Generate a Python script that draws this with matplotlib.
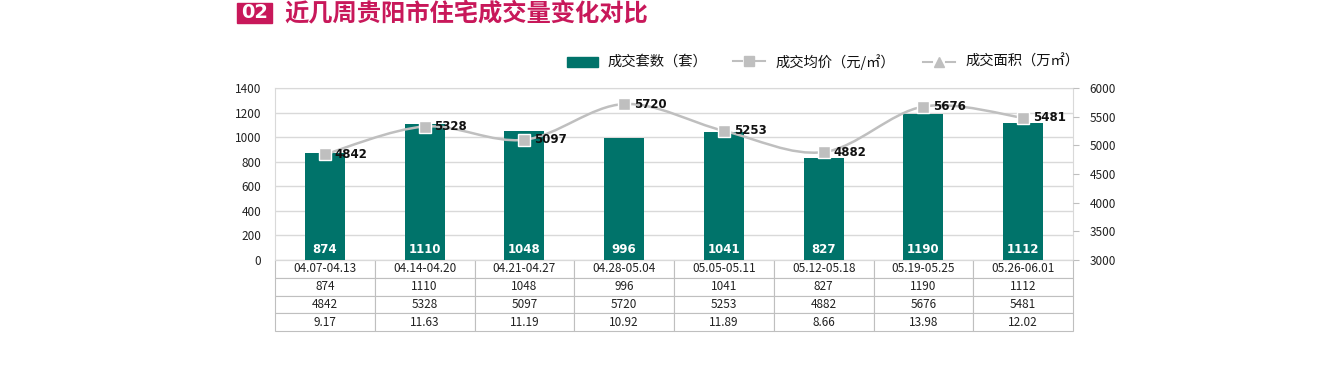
import matplotlib
matplotlib.use("Agg")
import matplotlib.pyplot as plt
from matplotlib.path import Path
from matplotlib.patches import PathPatch, Rectangle
from matplotlib.lines import Line2D
import numpy as np

plt.rcParams['font.family'] = ['Noto Sans CJK SC', 'DejaVu Sans']

weeks = ["04.07-04.13", "04.14-04.20", "04.21-04.27", "04.28-05.04",
         "05.05-05.11", "05.12-05.18", "05.19-05.25", "05.26-06.01"]
units = [874, 1110, 1048, 996, 1041, 827, 1190, 1112]
price = [4842, 5328, 5097, 5720, 5253, 4882, 5676, 5481]
area = ["9.17", "11.63", "11.19", "10.92", "11.89", "8.66", "13.98", "12.02"]

title = "近几周贵阳市住宅成交量变化对比"
teal = "#00736A"
grey = "#BFBFBF"
crimson = "#C8185A"

fig = plt.figure(figsize=(13.2, 3.81), dpi=100)
ax = fig.add_axes([275/1320, 1-260/381, (1073-275)/1320, (260-88)/381])
ax2 = ax.twinx()

x = np.arange(len(weeks))
ax.bar(x, units, width=0.4, color=teal, zorder=3)
for xi, v in zip(x, units):
    ax.text(xi, 88, str(v), ha='center', va='center', color='white',
            fontsize=8.5, fontweight='bold', family='DejaVu Sans', zorder=4)

ax.set_xlim(-0.5, len(weeks)-0.5)
ax.set_ylim(0, 1400)
ax.set_yticks(range(0, 1401, 200))
ax.yaxis.grid(True, color='#D9D9D9', lw=1, zorder=0)
ax.set_axisbelow(True)
ax.set_xticks([])
ax.tick_params(axis='y', length=0, labelsize=8.5, colors='#222222', pad=10)
for s in ax.spines.values():
    s.set_color('#D9D9D9')

ax2.set_ylim(3000, 6000)
ax2.set_yticks(range(3000, 6001, 500))
ax2.tick_params(axis='y', length=4, color='#BFBFBF', labelsize=8.5, colors='#222222', pad=8)
for s in ax2.spines.values():
    s.set_visible(False)

# smooth curve (Catmull-Rom through data points)
pts = np.column_stack([x, price]).astype(float)
verts = [tuple(pts[0])]
codes = [Path.MOVETO]
n = len(pts)
for i in range(n-1):
    p0 = pts[i-1] if i > 0 else pts[i]
    p1 = pts[i]
    p2 = pts[i+1]
    p3 = pts[i+2] if i+2 < n else pts[i+1]
    c1 = p1 + (p2 - p0) / 6.0
    c2 = p2 - (p3 - p1) / 6.0
    verts += [tuple(c1), tuple(c2), tuple(p2)]
    codes += [Path.CURVE4]*3
ax2.add_patch(PathPatch(Path(verts, codes), fill=False, edgecolor=grey, lw=1.8, zorder=5))
ax2.plot(x, price, ls='none', marker='s', ms=8, mfc=grey, mec='white', mew=1, zorder=6)
for xi, v in zip(x, price):
    ax2.annotate(str(v), (xi, v), xytext=(7, 0), textcoords='offset points',
                 ha='left', va='center', fontsize=8.5, fontweight='bold',
                 family='DejaVu Sans', color='#111111', zorder=7)

# table
tbl = ax.table(cellText=[weeks, [str(u) for u in units], [str(p) for p in price], area],
               cellLoc='center', bbox=[0, -71/172, 1, 71/172])
tbl.auto_set_font_size(False)
tbl.set_fontsize(8.5)
for (r, c), cell in tbl.get_celld().items():
    cell.set_edgecolor('#BFBFBF')
    cell.set_linewidth(0.8)
    cell.get_text().set_color('#222222')

# legend
fig.patches.append(Rectangle((567/1320, 1-67/381), 31/1320, 10/381, transform=fig.transFigure,
                             color=teal))
fig.text(607/1320, 1-62/381, "成交套数（套）", fontsize=10.3, va='center', ha='left', color='#111111')
fig.lines.append(Line2D([733/1320, 742/1320], [1-61/381]*2, transform=fig.transFigure,
                        color=grey, lw=1.5))
fig.lines.append(Line2D([756/1320, 765/1320], [1-61/381]*2, transform=fig.transFigure,
                        color=grey, lw=1.5))
fig.lines.append(Line2D([749/1320], [1-61/381], transform=fig.transFigure,
                        ls='none', marker='s', ms=7, mfc=grey, mec=grey))
fig.text(775/1320, 1-62/381, "成交均价（元/㎡）", fontsize=10.3, va='center', ha='left', color='#111111')
fig.lines.append(Line2D([923/1320, 932/1320], [1-62/381]*2, transform=fig.transFigure,
                        color=grey, lw=1.5))
fig.lines.append(Line2D([946/1320, 955/1320], [1-62/381]*2, transform=fig.transFigure,
                        color=grey, lw=1.5))
fig.lines.append(Line2D([939/1320], [1-62/381], transform=fig.transFigure,
                        ls='none', marker='^', ms=7, mfc=grey, mec=grey))
fig.text(966/1320, 1-62/381, "成交面积（万㎡）", fontsize=10.3, va='center', ha='left', color='#111111')

# title
fig.patches.append(Rectangle((237/1320, 1-23/381), 35/1320, 20/381, transform=fig.transFigure,
                             color=crimson))
fig.text(254.5/1320, 1-13/381, "02", fontsize=14, fontweight='bold', color='white',
         ha='center', va='center', family='DejaVu Sans')
fig.text(284/1320, 1-13/381, title, fontsize=17.5, fontweight='bold', color=crimson,
         ha='left', va='center')

fig.savefig("out.png", dpi=100)
